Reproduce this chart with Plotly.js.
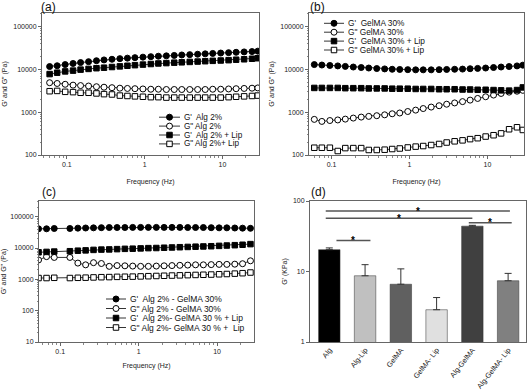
<!DOCTYPE html>
<html>
<head>
<meta charset="utf-8">
<script src="https://cdn.plot.ly/plotly-3.0.1.min.js"></script>
<style>
  html, body { margin: 0; padding: 0; background: #fff; }
  #chart { width: 530px; height: 391px; }
</style>
</head>
<body>
<div id="chart"></div>
<script>
// Frequency sweeps (Hz)
const freqAB = [0.06, 0.075, 0.095, 0.12, 0.15, 0.19, 0.24, 0.30, 0.38, 0.48, 0.60, 0.75, 0.95, 1.2,
                1.5, 1.9, 2.4, 3.0, 3.8, 4.8, 6.0, 7.5, 9.5, 12, 15, 19, 24, 28.5];
const freqC = [0.053, 0.067, 0.084, 0.133, 0.168, 0.211, 0.266, 0.335, 0.422, 0.531, 0.668, 0.84, 1.06,
               1.33, 1.68, 2.11, 2.66, 3.35, 4.22, 5.31, 6.68, 8.41, 10.6, 13.3, 16.8, 21.1, 26.6];

// (a) Alg 2%
const gpAlg = [11700, 12200, 13000, 13800, 14500, 15200, 16000, 16700, 17300, 17900, 18400, 18900, 19400, 19900,
               20400, 20800, 21300, 21800, 22200, 22700, 23200, 23700, 24200, 24700, 25200, 25700, 26200, 26800];
const gppAlg = [4900, 4700, 4500, 4300, 4200, 4100, 3950, 3850, 3750, 3650, 3600, 3550, 3500, 3450,
                3450, 3400, 3400, 3400, 3400, 3400, 3400, 3450, 3450, 3500, 3550, 3600, 3650, 3700];
const gpAlgLip = [7800, 8400, 9000, 9400, 9900, 10300, 10700, 11000, 11400, 11800, 12200, 12600, 13000, 13400,
                  13800, 14100, 14400, 14700, 15000, 15300, 15600, 15900, 16200, 16500, 16900, 17300, 17800, 18300];
const gppAlgLip = [3100, 3150, 3000, 2950, 2850, 2850, 2750, 2650, 2600, 2450, 2400, 2350, 2300, 2250,
                   2250, 2200, 2200, 2200, 2200, 2200, 2200, 2200, 2200, 2250, 2300, 2350, 2400, 2450];

// (b) GelMA 30%
const gpGel = [13000, 12700, 12400, 12100, 11800, 11400, 11100, 10800, 10500, 10300, 10100, 10000, 9900, 9800,
               9800, 9800, 9900, 10000, 10100, 10200, 10400, 10600, 10800, 11100, 11400, 11700, 12100, 12600];
const gppGel = [680, 610, 640, 660, 690, 730, 770, 800, 830, 870, 920, 960, 1040, 1120,
                1220, 1320, 1420, 1540, 1650, 1770, 1920, 2100, 2300, 2520, 2750, 2950, 3100, 3250];
const gpGelLip = [3700, 3700, 3700, 3700, 3650, 3650, 3650, 3600, 3600, 3600, 3550, 3550, 3550, 3500,
                  3500, 3500, 3450, 3450, 3450, 3400, 3400, 3350, 3350, 3300, 3250, 3200, 3300, 3800];
const gppGelLip = [148, 148, 148, 124, 145, 145, 145, 131, 131, 133, 138, 142, 150, 157,
                   162, 171, 181, 196, 209, 220, 235, 247, 270, 290, 320, 400, 445, 385];

// (c) Alg 2% - GelMA 30%
const gpMix = [41000, 41000, 42000, 42000, 43000, 43500, 44000, 44500, 45000, 45000, 45000, 45500, 45500, 45500,
               45500, 45500, 45500, 45500, 45000, 45000, 45000, 44500, 44000, 44000, 43500, 43000, 42500];
const gppMix = [4150, 5300, 5000, 5000, 3300, 2900, 3400, 3200, 2600, 2750, 2700, 2650, 2600, 2600,
                2650, 2700, 2750, 2800, 2850, 2900, 2900, 2950, 3000, 3000, 3050, 3150, 3900];
const gpMixLip = [7300, 7500, 7700, 7900, 8200, 8400, 8700, 8900, 9000, 9200, 9400, 9500, 9700, 9900,
                  10000, 10200, 10400, 10600, 10800, 11000, 11200, 11400, 11700, 12000, 12300, 12700, 13300];
const gppMixLip = [1100, 1100, 1120, 1100, 1120, 1130, 1150, 1170, 1180, 1200, 1210, 1220, 1240, 1260,
                   1280, 1300, 1320, 1340, 1360, 1380, 1400, 1420, 1450, 1480, 1520, 1570, 1650];

// (d) G' (KPa)
const groups = ['Alg', 'Alg-Lip', 'GelMA', 'GelMA- Lip', 'Alg-GelMA', 'Alg-GelMA- Lip'];
const gMean = [20.4, 8.7, 6.6, 2.87, 44, 7.4];
const gErr = [1.2, 3.8, 4.3, 1.4, 1.2, 2.0];
const barColors = ['#000000', '#c0c0c0', '#606060', '#e0e0e0', '#404040', '#808080'];
const sigStart = [0.2, -0.1, -0.1, 3.9];
const sigEnd = [1.15, 4.0, 5.05, 5.1];
const sigLevel = [27.5, 57, 72, 49];

const namesA = ["G'  Alg 2%", 'G" Alg 2%', "G'  Alg 2% + Lip", 'G" Alg 2%+ Lip'];
const namesB = ["G'  GelMA 30%", 'G" GelMA 30%', "G'  GelMA 30% + Lip", 'G" GelMA 30% + Lip'];
const namesC = ["G'  Alg 2% - GelMA 30%", 'G" Alg 2% - GelMA 30%', "G'  Alg 2%- GelMA 30 % + Lip", 'G" Alg 2%- GelMA 30 % +  Lip'];

const FONT = 'Liberation Sans, Arial, sans-serif';
const styles = [
  {symbol: 'circle', open: false},
  {symbol: 'circle', open: true},
  {symbol: 'square', open: false},
  {symbol: 'square', open: true}
];

function markerOf(st) {
  return {
    symbol: st.symbol, size: st.symbol === 'square' ? 5.5 : 6,
    color: st.open ? '#fff' : '#000', line: {color: '#000', width: 1}
  };
}

function sweep(x, y, st, ax) {
  return {
    type: 'scatter', mode: 'lines+markers', x: x, y: y,
    xaxis: ax === 1 ? 'x' : 'x' + ax, yaxis: ax === 1 ? 'y' : 'y' + ax,
    line: {color: '#000', width: 0.8}, marker: markerOf(st),
    showlegend: false, hoverinfo: 'skip', cliponaxis: true
  };
}

const traces = [];
[gpAlg, gppAlg, gpAlgLip, gppAlgLip].forEach((y, i) => traces.push(sweep(freqAB, y, styles[i], 1)));
[gpGel, gppGel, gpGelLip, gppGelLip].forEach((y, i) => traces.push(sweep(freqAB, y, styles[i], 2)));
[gpMix, gppMix, gpMixLip, gppMixLip].forEach((y, i) => traces.push(sweep(freqC, y, styles[i], 3)));

traces.push({
  type: 'bar', x: groups, y: gMean, xaxis: 'x4', yaxis: 'y4', width: 0.6,
  marker: {color: barColors, line: {color: '#333', width: 0.5}},
  error_y: {type: 'data', symmetric: false, array: gErr, arrayminus: gErr.map(() => 0),
            color: '#333', thickness: 1, width: 3.5},
  showlegend: false, hoverinfo: 'skip'
});

// hand-made legends on a full-page overlay axis (pixel units)
const legends = [
  {names: namesA, x: 159, y: 117.2, dy: 8.9, len: 21, size: 8.2},
  {names: namesB, x: 324, y: 23.3, dy: 8.9, len: 20, size: 8.3},
  {names: namesC, x: 106, y: 299, dy: 9.5, len: 20, size: 8.5}
];
const annotations = [];
legends.forEach(lg => {
  lg.names.forEach((nm, i) => {
    const yy = lg.y + i * lg.dy;
    const mk = markerOf(styles[i]);
    mk.size = [0, mk.size, 0];
    mk.opacity = [0, 1, 0];
    traces.push({
      type: 'scatter', mode: 'lines+markers', xaxis: 'x5', yaxis: 'y5',
      x: [lg.x, lg.x + lg.len / 2, lg.x + lg.len], y: [yy, yy, yy],
      line: {color: '#000', width: 0.8}, marker: mk, showlegend: false, hoverinfo: 'skip'
    });
    annotations.push({
      xref: 'x5', yref: 'y5', x: lg.x + lg.len + 3, y: yy, text: nm, showarrow: false,
      xanchor: 'left', yanchor: 'middle', borderpad: 0,
      font: {size: lg.size, color: '#111', family: FONT}
    });
  });
});

// panel letters
[['(a)', 39, 7], ['(b)', 308, 7], ['(c)', 40, 192], ['(d)', 309, 192]].forEach(p => {
  annotations.push({
    xref: 'paper', yref: 'paper', x: p[1] / 530, y: 1 - p[2] / 391, text: p[0], showarrow: false,
    xanchor: 'left', yanchor: 'middle', font: {size: 12, color: '#111', family: FONT}
  });
});

// significance bars in (d)
const shapes = [];
sigLevel.forEach((lv, i) => {
  shapes.push({
    type: 'line', xref: 'x4', yref: 'y4', x0: sigStart[i], x1: sigEnd[i],
    y0: lv, y1: lv, line: {color: '#555', width: 1.5}
  });
  annotations.push({
    xref: 'x4', yref: 'y4', x: (sigStart[i] + sigEnd[i]) / 2, y: Math.log10(lv), text: '<b>*</b>',
    showarrow: false, yanchor: 'middle', yshift: 0, font: {size: 10, color: '#000', family: FONT}
  });
});

function logAxis(domain, range, vals, anchor) {
  return {
    type: 'log', domain: domain, range: range, anchor: anchor,
    tickmode: 'array', tickvals: vals, ticktext: vals.map(String),
    showgrid: false, zeroline: false, showline: true, mirror: true,
    linecolor: '#666', linewidth: 1, ticks: 'outside', ticklen: 3, tickcolor: '#666',
    tickfont: {size: 7, color: '#222', family: FONT},
    minor: {dtick: 'D1', ticks: 'outside', ticklen: 1.5, tickcolor: '#888'}
  };
}
const fx = v => v / 530;
const fy = v => 1 - v / 391;
const xTitle = sd => ({text: 'Frequency (Hz)', font: {size: 7, color: '#222', family: FONT}, standoff: sd});
const yTitle = {text: 'G\' and G" (Pa)', font: {size: 7, color: '#222', family: FONT}, standoff: 4};

const layout = {
  width: 530, height: 391, autosize: false,
  margin: {l: 0, r: 0, t: 0, b: 0},
  paper_bgcolor: '#fff', plot_bgcolor: 'rgba(0,0,0,0)',
  font: {family: FONT, color: '#222'},
  showlegend: false,
  xaxis: Object.assign(logAxis([fx(42), fx(259)], [-1.32, 1.47], [0.1, 1, 10], 'y'), {title: xTitle(11)}),
  yaxis: Object.assign(logAxis([fy(155), fy(13)], [2, 5.32], [100, 1000, 10000, 100000], 'x'), {title: yTitle}),
  xaxis2: Object.assign(logAxis([fx(309), fx(524)], [-1.29, 1.47], [0.1, 1, 10], 'y2'), {title: xTitle(11)}),
  yaxis2: Object.assign(logAxis([fy(155), fy(13)], [2, 5.32], [100, 1000, 10000, 100000], 'x2'), {title: yTitle}),
  xaxis3: Object.assign(logAxis([fx(39), fx(254)], [-1.27, 1.47], [0.1, 1, 10], 'y3'), {title: xTitle(8)}),
  yaxis3: Object.assign(logAxis([fy(342), fy(201)], [1, 5.5], [10, 100, 1000, 10000, 100000], 'x3'), {title: yTitle}),
  xaxis4: {
    type: 'category', domain: [fx(310), fx(526)], range: [-0.54, 5.5], anchor: 'y4',
    showgrid: false, zeroline: false, showline: true, mirror: true, linecolor: '#666', linewidth: 1,
    ticks: '', tickangle: -52, tickfont: {size: 7.3, color: '#222', family: FONT}
  },
  yaxis4: Object.assign(logAxis([fy(342), fy(201)], [0, 2], [1, 10, 100], 'x4'), {
    minor: {ticks: ''},
    title: {text: "G' (KPa)", font: {size: 7, color: '#222', family: FONT}, standoff: 4}
  }),
  xaxis5: {domain: [0, 1], range: [0, 530], anchor: 'y5', visible: false, fixedrange: true},
  yaxis5: {domain: [0, 1], range: [391, 0], anchor: 'x5', visible: false, fixedrange: true},
  shapes: shapes,
  annotations: annotations
};

Plotly.newPlot('chart', traces, layout, {staticPlot: true, displayModeBar: false});
</script>
</body>
</html>
